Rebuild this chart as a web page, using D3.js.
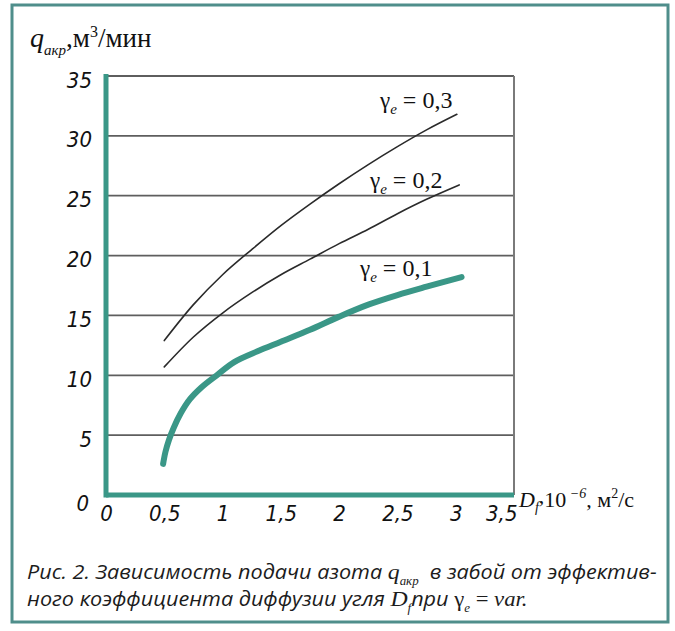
<!DOCTYPE html>
<html>
<head>
<meta charset="utf-8">
<script src="https://cdn.jsdelivr.net/npm/d3@7"></script>
<style>
  html, body { margin: 0; padding: 0; background: #fff; }
  svg { display: block; }
</style>
</head>
<body>
<svg id="chart" width="675" height="631"></svg>
<script>
// Axis ticks
const xTicks = [0, 0.5, 1, 1.5, 2, 2.5, 3, 3.5];
const xTickLabels = ["0", "0,5", "1", "1,5", "2", "2,5", "3", "3,5"];
const yTicks = [0, 5, 10, 15, 20, 25, 30, 35];
const yTickLabels = ["0", "5", "10", "15", "20", "25", "30", "35"];

// Effective diffusion coefficient D_f, 10^-6 m²/s, and nitrogen feed q, m³/min
const dfGamma03 = [0.5, 0.75, 1.0, 1.25, 1.5, 1.75, 2.0, 2.25, 2.5, 2.75, 3.01];
const qGamma03  = [12.9, 15.9, 18.4, 20.5, 22.5, 24.3, 26.0, 27.6, 29.1, 30.5, 31.8];

const dfGamma02 = [0.5, 0.75, 1.0, 1.25, 1.5, 1.75, 2.0, 2.25, 2.5, 2.75, 3.03];
const qGamma02  = [10.7, 13.2, 15.2, 16.9, 18.4, 19.7, 21.0, 22.2, 23.5, 24.7, 25.9];

const dfGamma01 = [0.49, 0.51, 0.54, 0.58, 0.64, 0.72, 0.82, 0.95, 1.1, 1.3, 1.5, 1.75, 2.0, 2.25, 2.5, 2.75, 3.05];
const qGamma01  = [2.6, 3.6, 4.6, 5.6, 6.8, 8.0, 9.0, 10.0, 11.1, 12.0, 12.8, 13.8, 14.9, 15.9, 16.7, 17.4, 18.2];

const seriesNames = ["0,3", "0,2", "0,1"];

const TEAL = "#3a9787";
const FRAME = "#4f8e8b";
const SERIF = "'Liberation Serif', 'Times New Roman', serif";
const SANS = "'Open Sans', 'Noto Sans', sans-serif";
const TICKFONT = "'Liberation Sans Narrow', 'DejaVu Sans', sans-serif";

const svg = d3.select("#chart");

// outer frame
svg.append("rect")
  .attr("x", 12).attr("y", 5).attr("width", 656).attr("height", 617)
  .attr("fill", "#fff").attr("stroke", FRAME).attr("stroke-width", 3);

const x = d3.scaleLinear().domain([0, 3.5]).range([106, 514]);
const y = d3.scaleLinear().domain([0, 35]).range([495, 76]);

const plot = svg.append("g");

// horizontal grid lines
plot.selectAll("line.grid")
  .data(yTicks.filter(d => d > 0))
  .join("line")
  .attr("class", "grid")
  .attr("x1", x(0)).attr("x2", x(3.5))
  .attr("y1", d => y(d)).attr("y2", d => y(d))
  .attr("stroke", "#5e5e5e").attr("stroke-width", 1.8);

// right border of the plot
plot.append("line")
  .attr("x1", x(3.5)).attr("x2", x(3.5))
  .attr("y1", y(35)).attr("y2", y(0))
  .attr("stroke", "#7a7a7a").attr("stroke-width", 2);

// curves
const line = d3.line()
  .x(d => x(d[0])).y(d => y(d[1]))
  .curve(d3.curveCatmullRom.alpha(0.5));

const series = [
  { df: dfGamma03, q: qGamma03, color: "#2a2a2a", width: 1.6 },
  { df: dfGamma02, q: qGamma02, color: "#2a2a2a", width: 1.6 },
  { df: dfGamma01, q: qGamma01, color: TEAL, width: 6 }
];
series.forEach(s => {
  plot.append("path")
    .datum(d3.zip(s.df, s.q))
    .attr("d", line)
    .attr("fill", "none")
    .attr("stroke", s.color)
    .attr("stroke-width", s.width)
    .attr("stroke-linecap", "round")
    .attr("stroke-linejoin", "round");
});

// axes
const xAxis = d3.axisBottom(x).tickValues(xTicks)
  .tickFormat((d, i) => xTickLabels[i]).tickSize(0).tickPadding(10);
const gx = svg.append("g").attr("transform", `translate(0,${y(0)})`).call(xAxis);
gx.select(".domain").remove();
gx.selectAll("text")
  .attr("font-family", TICKFONT).attr("font-style", "italic")
  .style("font-stretch", "condensed")
  .attr("font-size", 22).attr("fill", "#111");
gx.selectAll(".tick").filter(d => d === 3.5).select("text")
  .attr("text-anchor", "end").attr("x", 3);

const yAxis = d3.axisLeft(y).tickValues(yTicks)
  .tickFormat((d, i) => yTickLabels[i]).tickSize(0).tickPadding(14);
const gy = svg.append("g").attr("transform", `translate(${x(0)},0)`).call(yAxis);
gy.select(".domain").remove();
gy.selectAll("text")
  .attr("font-family", TICKFONT).attr("font-style", "italic")
  .style("font-stretch", "condensed")
  .attr("font-size", 22).attr("fill", "#111")
  .attr("dy", "0.5em");
gy.selectAll(".tick").filter(d => d === 0).select("text").attr("dy", "0.72em").attr("x", -17);

// thick teal axis lines
svg.append("line")
  .attr("x1", x(0)).attr("x2", x(3.5))
  .attr("y1", y(0)).attr("y2", y(0))
  .attr("stroke", TEAL).attr("stroke-width", 5);
svg.append("line")
  .attr("x1", x(0)).attr("x2", x(0))
  .attr("y1", y(35) - 2).attr("y2", y(0) + 2.5)
  .attr("stroke", TEAL).attr("stroke-width", 5);

// rich text helper: parts with font, size, style and baseline shift
function rich(parent, px, py, parts, anchor) {
  const t = parent.append("text").attr("x", px).attr("y", py)
    .attr("fill", "#111").attr("text-anchor", anchor || "start");
  let shift = 0;
  parts.forEach(p => {
    const s = t.append("tspan").text(p.t)
      .attr("font-family", p.f || SERIF)
      .attr("font-size", p.s)
      .attr("font-style", p.i ? "italic" : "normal")
      .style("white-space", "pre");
    const want = p.dy || 0;
    if (want !== shift) { s.attr("dy", want - shift); shift = want; }
  });
  return t;
}

// y-axis title
rich(svg, 30, 47, [
  { t: "q", s: 28, i: true },
  { t: "акр", s: 15, i: true, dy: 8 },
  { t: ",м", s: 27, dy: 0 },
  { t: "3", s: 16, dy: -10 },
  { t: "/мин", s: 27, dy: 0 }
]);

// x-axis title
rich(svg, 519, 507, [
  { t: "D", s: 22, i: true },
  { t: "f", s: 14, i: true, dy: 5 },
  { t: ",", s: 22, dy: -4 },
  { t: "10", s: 22, dy: 0 },
  { t: " −6", s: 14, i: true, dy: -9 },
  { t: ", м", s: 22, dy: 0 },
  { t: "2", s: 14, dy: -9 },
  { t: "/с", s: 22, dy: 0 }
]);

// curve labels γe = value
const labelAt = [[380, 108], [370, 188], [360, 276]];
seriesNames.forEach((name, i) => {
  rich(svg, labelAt[i][0], labelAt[i][1], [
    { t: "γ", s: 23 },
    { t: "e", s: 15, i: true, dy: 6 },
    { t: " = " + name, s: 24, dy: 0 }
  ]);
});

// caption
const cap = svg.append("g");
const line1 = rich(cap, 0, 0, [
  { t: "Рис. 2. Зависимость подачи азота ", f: SANS, s: 20, i: true },
  { t: "q", s: 22, i: true },
  { t: "акр", s: 12, i: true, dy: 6 },
  { t: "  в забой от эффектив-", f: SANS, s: 20, i: true, dy: 0 }
]);
const line2 = rich(cap, 0, 0, [
  { t: "ного коэффициента диффузии угля ", f: SANS, s: 20, i: true },
  { t: "D", s: 22, i: true },
  { t: "f", s: 12, i: true, dy: 6 },
  { t: "при ", f: SANS, s: 20, i: true, dy: 0 },
  { t: "γ", s: 21 },
  { t: "e", s: 12, i: true, dy: 6 },
  { t: " = ", s: 21, dy: 0 },
  { t: "var.", s: 21, i: true }
]);
const w1 = line1.node().getComputedTextLength();
const sx = 630 / w1;
line1.attr("transform", `translate(27,579) scale(${sx},1)`);
line2.attr("transform", `translate(27,606) scale(${sx},1)`);
cap.selectAll("text").attr("fill", "#1c1c1c");
</script>
</body>
</html>
